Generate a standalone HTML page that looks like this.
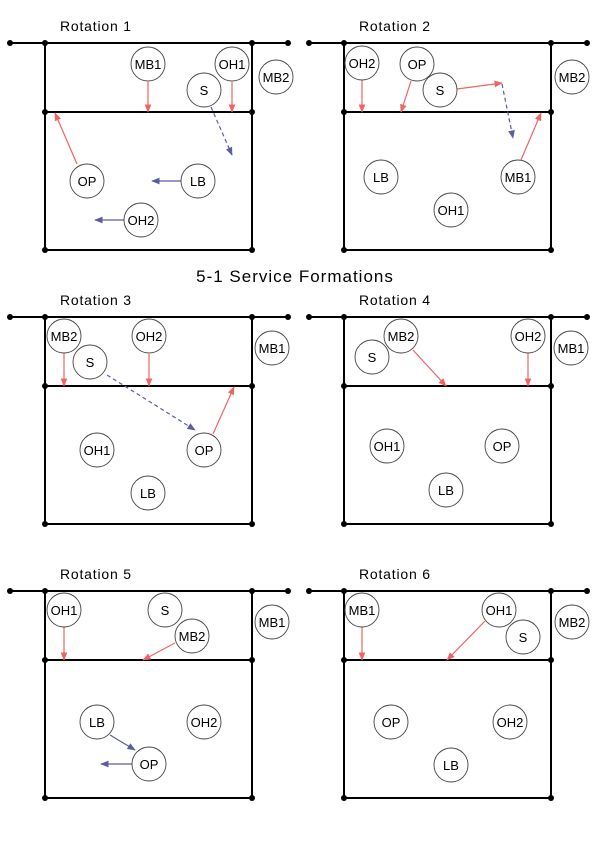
<!DOCTYPE html>
<html><head><meta charset="utf-8">
<style>
html,body{margin:0;padding:0;background:#fff;}
svg{display:block;font-family:"Liberation Sans",sans-serif;}
</style></head>
<body>
<svg id="d" width="596" height="842" viewBox="0 0 596 842" xmlns="http://www.w3.org/2000/svg">
<defs>
<marker id="ar" viewBox="0 0 10 10" refX="9" refY="5" markerWidth="7" markerHeight="7" orient="auto"><path d="M0,1 L10,5 L0,9 z" fill="#f06464"/></marker>
<marker id="ab" viewBox="0 0 10 10" refX="9" refY="5" markerWidth="7" markerHeight="7" orient="auto"><path d="M0,1 L10,5 L0,9 z" fill="#5c5ca0"/></marker>
</defs>
<text x="295" y="282" text-anchor="middle" font-size="17" letter-spacing="1" fill="#000">5-1 Service Formations</text>
</svg>
<script>
const rotationTitles=["Rotation 1","Rotation 2","Rotation 3","Rotation 4","Rotation 5","Rotation 6"];
const origins=[[45,43],[344,43],[45,317],[344,317],[45,591],[344,591]];
const r1Players=[["MB1",103,21],["OH1",187,21],["S",159,47],["MB2",231,34],["OP",42,138],["LB",153,138],["OH2",96,177]];
const r2Players=[["OH2",18,20],["OP",73,21],["S",96,47],["MB2",228,34],["LB",37,134],["MB1",174,134],["OH1",107,167]];
const r3Players=[["MB2",19,19],["OH2",104,19],["S",45,45],["MB1",227,31],["OH1",52,133],["OP",159,133],["LB",103,176]];
const r4Players=[["MB2",57,19],["OH2",184,19],["S",28,40],["MB1",227,31],["OH1",43,129],["OP",158,129],["LB",102,173]];
const r5Players=[["OH1",19,19],["S",120,19],["MB2",147,45],["MB1",227,31],["LB",52,131],["OH2",159,131],["OP",104,173]];
const r6Players=[["MB1",18,19],["OH1",155,19],["S",179,46],["MB2",228,31],["OP",47,131],["OH2",166,131],["LB",107,174]];
const r1Arrows=[[103,39,103,69,"r"],[187,39,187,69,"r"],[32,121,10,70,"r"],[166,64,187,112,"bd"],[136,138,107,138,"b"],[79,177,50,177,"b"]];
const r2Arrows=[[18,37,18,69,"r"],[67,38,57,69,"r"],[113,46,158,40,"r"],[158,41,169,95,"bd"],[177,117,197,70,"r"]];
const r3Arrows=[[19,36,19,69,"r"],[104,37,104,69,"r"],[62,58,150,113,"bd"],[168,117,189,70,"r"]];
const r4Arrows=[[69,33,102,69,"r"],[184,36,184,69,"r"]];
const r5Arrows=[[19,36,19,69,"r"],[130,52,98,69,"r"],[65,144,90,159,"b"],[87,173,56,173,"b"]];
const r6Arrows=[[18,36,18,69,"r"],[141,30,103,69,"r"]];
const allPlayers=[r1Players,r2Players,r3Players,r4Players,r5Players,r6Players];
const allArrows=[r1Arrows,r2Arrows,r3Arrows,r4Arrows,r5Arrows,r6Arrows];
const NS="http://www.w3.org/2000/svg";
const svg=document.getElementById('d');
function mk(tag,attrs,parent){const e=document.createElementNS(NS,tag);for(const k in attrs)e.setAttribute(k,attrs[k]);(parent||svg).appendChild(e);return e;}
const W=207,H=207,ATK=69;
origins.forEach((o,i)=>{
  const g=mk('g',{transform:`translate(${o[0]},${o[1]})`});
  
  
  const t=mk('text',{x:15,y:-12,'font-size':14,'letter-spacing':0.8,fill:'#000'},g);
  t.textContent=rotationTitles[i];
  
  
  const ln={stroke:'#000','stroke-width':2,fill:'none'};
  const net=mk('line',Object.assign({x1:-35,y1:0,x2:W+36,y2:0},ln),g);
  
  
  const court=mk('rect',Object.assign({x:0,y:0,width:W,height:H},ln),g);
  
  
  const atk=mk('line',Object.assign({x1:0,y1:ATK,x2:W,y2:ATK},ln),g);
  
  
  [[-35,0],[0,0],[W,0],[W+36,0],[0,ATK],[W,ATK],[0,H],[W,H]].forEach(p=>{
    const c=mk('circle',{cx:p[0],cy:p[1],r:3,fill:'#000'},g);
    
    
  });
  allArrows[i].forEach(a=>{
    const col=a[4]==='r'?'#f06464':'#5c5ca0';
    const l=mk('line',{x1:a[0],y1:a[1],x2:a[2],y2:a[3],stroke:col,'stroke-width':1.2,'marker-end':a[4]==='r'?'url(#ar)':'url(#ab)'},g);
    if(a[4]==='bd')l.setAttribute('stroke-dasharray','4,3');
    
    
  });
  allPlayers[i].forEach(p=>{
    const pg=mk('g',{},g);
    
    
    mk('circle',{cx:p[1],cy:p[2],r:17,fill:'#fff',stroke:'#444','stroke-width':0.9},pg);
    const tx=mk('text',{x:p[1],y:p[2]+5,'text-anchor':'middle','font-size':13,fill:'#000'},pg);
    tx.textContent=p[0];
  });
});
</script>
</body></html>
